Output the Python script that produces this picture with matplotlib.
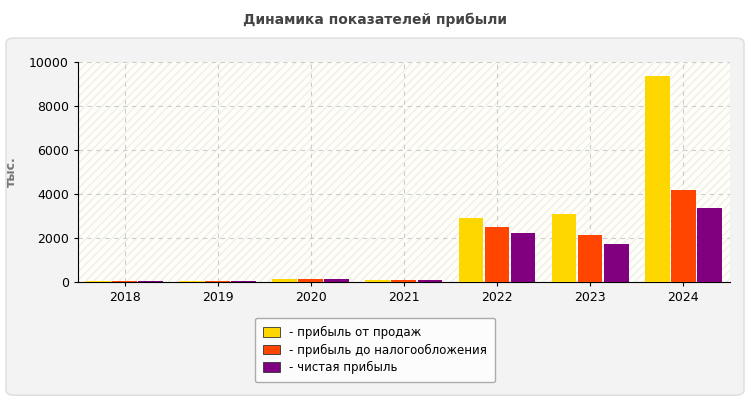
import matplotlib
matplotlib.use('Agg')
import matplotlib.pyplot as plt
from matplotlib.patches import FancyBboxPatch
import numpy as np

years = ['2018', '2019', '2020', '2021', '2022', '2023', '2024']
sales_profit = [50, 50, 120, 110, 2910, 3090, 9360]
pretax_profit = [50, 50, 120, 110, 2500, 2140, 4180]
net_profit = [50, 50, 120, 110, 2230, 1730, 3360]
labels = ['- прибыль от продаж', '- прибыль до налогообложения', '- чистая прибыль']
colors = ['#FFD700', '#FF4500', '#800080']

fig = plt.figure(figsize=(7.5, 4), dpi=100)
fig.patch.set_facecolor('white')
panel = FancyBboxPatch((0.008, 0.012), 0.984, 0.893, boxstyle='round,pad=0,rounding_size=0.012',
                       transform=fig.transFigure, facecolor='#F3F3F3', edgecolor='#DDDDDD', lw=1,
                       zorder=-5)
fig.patches.append(panel)
fig.text(0.5, 0.95, 'Динамика показателей прибыли', ha='center', va='center',
         fontsize=10, fontweight='bold', color='#444444')

ax = fig.add_axes([0.104, 0.295, 0.869, 0.55])
ax.set_facecolor('#FFFFF8')
ax.add_patch(plt.Rectangle((0, 0), 1, 1, transform=ax.transAxes, facecolor='none',
                           hatch='////', edgecolor='#EEEEEE', lw=0, zorder=0))
x = np.arange(len(years))
w = 0.28
for i, (vals, c, lab) in enumerate(zip([sales_profit, pretax_profit, net_profit], colors, labels)):
    ax.bar(x + (i - 1) * w, vals, w * 0.95, color=c, label=lab, zorder=3)

ax.set_xlim(-0.5, len(years) - 0.5)
ax.set_ylim(0, 10000)
ax.set_yticks(range(0, 10001, 2000))
ax.set_xticks(x)
ax.set_xticklabels(years)
ax.tick_params(labelsize=9, length=3)
ax.grid(True, ls=(0, (4, 4)), color='#CCCCCC', lw=0.8, zorder=1)
for s in ['top', 'right']:
    ax.spines[s].set_visible(False)
ax.set_ylabel('тыс.', fontsize=9, fontweight='bold', color='#777777', labelpad=8)

leg = fig.legend(loc='center', bbox_to_anchor=(0.5, 0.125), fontsize=8.5, frameon=True,
                 handlelength=1.4, handleheight=0.9, labelspacing=0.35, borderpad=0.7,
                 fancybox=True, edgecolor='#999999', facecolor='white')
for h in leg.legend_handles:
    h.set_edgecolor('#333333')
    h.set_linewidth(0.6)

fig.savefig('out.png', dpi=100)
